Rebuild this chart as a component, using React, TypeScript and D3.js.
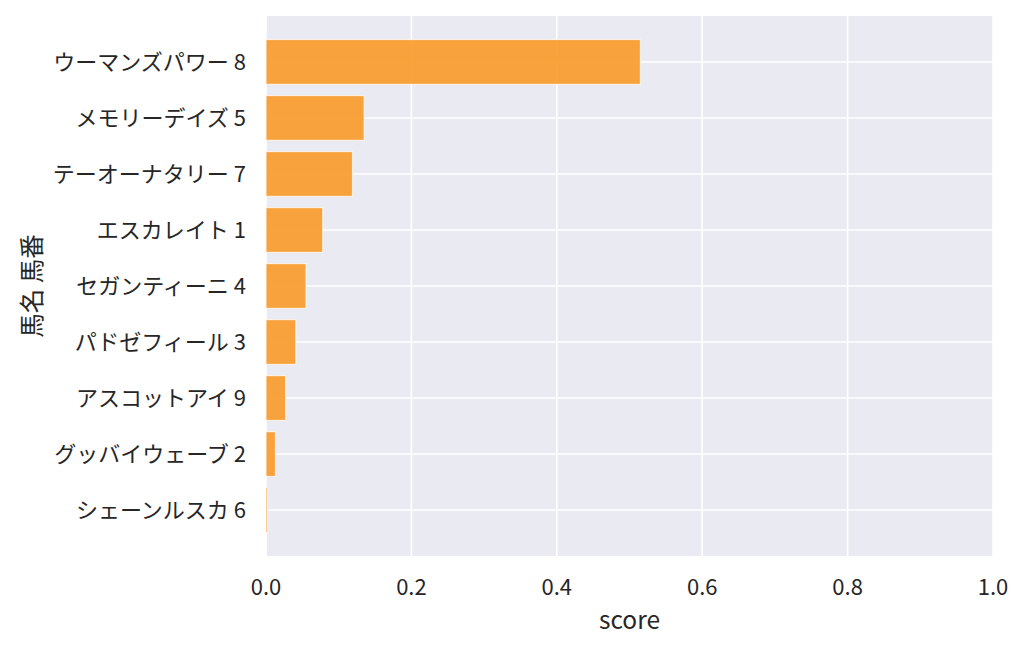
import * as d3 from 'd3'
import {useRef, useEffect} from 'react'

const horses: string[] = [
  'ウーマンズパワー 8',
  'メモリーデイズ 5',
  'テーオーナタリー 7',
  'エスカレイト 1',
  'セガンティーニ 4',
  'パドゼフィール 3',
  'アスコットアイ 9',
  'グッバイウェーブ 2',
  'シェーンルスカ 6',
]
const scores: number[] = [0.515, 0.135, 0.119, 0.078, 0.055, 0.041, 0.027, 0.013, 0.002]
const xTicks: number[] = [0, 0.2, 0.4, 0.6, 0.8, 1.0]

const W = 1024
const H = 648
const margin = {left: 266, right: 31, top: 16, bottom: 92}
const FONT = '"Noto Sans CJK JP", "Noto Sans", sans-serif'

export default function App() {
  const svgRef = useRef<SVGSVGElement>(null)

  useEffect(() => {
    const svg = d3.select(svgRef.current)
    svg.selectAll('*').remove()

    const x = d3.scaleLinear().domain([0, 1]).range([margin.left, W - margin.right])
    const y = d3.scalePoint<string>().domain(horses).range([margin.top, H - margin.bottom]).padding(0.82)
    const step = y.step()
    const barH = step * 0.8

    svg.append('rect')
      .attr('x', margin.left).attr('y', margin.top)
      .attr('width', W - margin.left - margin.right)
      .attr('height', H - margin.top - margin.bottom)
      .attr('fill', '#eaeaf2')

    // grid
    svg.append('g').selectAll('line.v').data(xTicks).enter().append('line')
      .attr('x1', d => x(d)).attr('x2', d => x(d))
      .attr('y1', margin.top).attr('y2', H - margin.bottom)
      .attr('stroke', '#fff').attr('stroke-width', 1.6)
    svg.append('g').selectAll('line.h').data(horses).enter().append('line')
      .attr('x1', margin.left).attr('x2', W - margin.right)
      .attr('y1', d => y(d)!).attr('y2', d => y(d)!)
      .attr('stroke', '#fff').attr('stroke-width', 1.6)

    // bars
    svg.append('g').selectAll('rect').data(horses).enter().append('rect')
      .attr('x', x(0))
      .attr('y', d => y(d)! - barH / 2)
      .attr('width', (d, i) => x(scores[i]) - x(0))
      .attr('height', barH)
      .attr('fill', '#f99e33')
      .attr('fill-opacity', 0.95)
      .attr('stroke', '#fff')
      .attr('stroke-opacity', 0.7)
      .attr('stroke-width', 1.2)

    // y tick labels
    svg.append('g').selectAll('text').data(horses).enter().append('text')
      .attr('x', margin.left - 20)
      .attr('y', d => y(d)!)
      .attr('dy', '0.35em')
      .attr('text-anchor', 'end')
      .attr('font-family', FONT)
      .attr('font-size', 22)
      .attr('fill', '#262626')
      .text(d => d)

    // x tick labels
    svg.append('g').selectAll('text').data(xTicks).enter().append('text')
      .attr('x', d => x(d))
      .attr('y', H - margin.bottom + 31)
      .attr('dy', '0.35em')
      .attr('text-anchor', 'middle')
      .attr('font-family', FONT)
      .attr('font-size', 22)
      .attr('fill', '#262626')
      .text(d => d3.format('.1f')(d))

    svg.append('text')
      .attr('x', (margin.left + W - margin.right) / 2)
      .attr('y', H - margin.bottom + 64)
      .attr('dy', '0.35em')
      .attr('text-anchor', 'middle')
      .attr('font-family', FONT)
      .attr('font-size', 24.5)
      .attr('fill', '#262626')
      .text('score')

    svg.append('text')
      .attr('transform', `translate(32,${(margin.top + H - margin.bottom) / 2}) rotate(-90)`)
      .attr('dy', '0.35em')
      .attr('text-anchor', 'middle')
      .attr('font-family', FONT)
      .attr('font-size', 24.5)
      .attr('fill', '#262626')
      .text('馬名 馬番')
  }, [])

  return (
    <svg ref={svgRef} width={W} height={H}
      style={{position: 'absolute', left: 0, top: 0, background: '#fff'}} />
  )
}
